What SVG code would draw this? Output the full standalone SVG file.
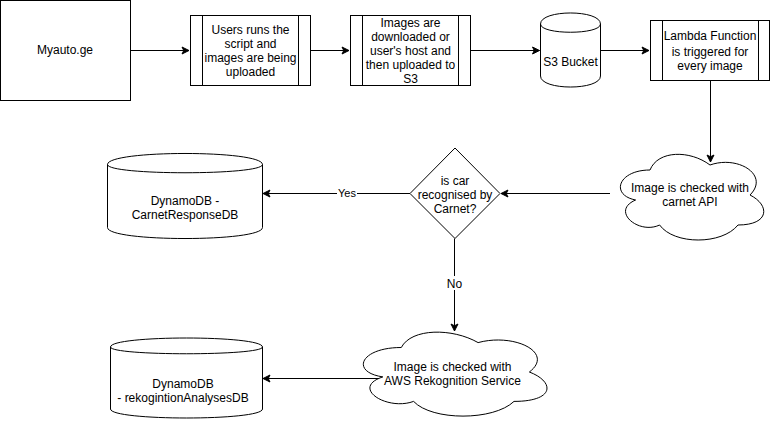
<svg xmlns="http://www.w3.org/2000/svg" width="771" height="424" viewBox="0 0 771 424">
<style>
.s{fill:#fff;stroke:#000;stroke-width:1}
.n{fill:none;stroke:#000;stroke-width:1}
.t{font-family:"Liberation Sans",Arial,Helvetica,sans-serif;font-size:12px;fill:#000;text-anchor:middle}
.e{stroke:#000;stroke-width:1;fill:none;marker-end:url(#arr)}
.lb{font-family:"Liberation Sans",Arial,Helvetica,sans-serif;fill:#000;text-anchor:middle}
</style>
<defs>
<marker id="arr" viewBox="-8 -5 9 10" refX="0" refY="0" markerWidth="9" markerHeight="10" orient="auto" markerUnits="userSpaceOnUse" overflow="visible">
<path d="M0,0 L-7,-3.5 L-5.25,0 L-7,3.5 Z" fill="#000" stroke="#000" stroke-width="1" stroke-linejoin="miter"/>
</marker>
</defs>
<rect width="771" height="424" fill="#fff"/>
<g id="connectors">
<path class="e" d="M130.5,50.5 L189,50.5"/>
<path class="e" d="M310.5,50.5 L349,50.5"/>
<path class="e" d="M470.5,50.5 L539.5,50.5"/>
<path class="e" d="M600.5,50.5 L649,50.5"/>
<path class="e" d="M710.5,80.5 L710.5,162"/>
<path class="e" d="M610,193.5 L501,193.5"/>
<path class="e" d="M410,193.5 L263,193.5"/>
<path class="e" d="M454.5,238.5 L454.5,331"/>
<path class="e" d="M382,378.5 L263,378.5"/>
<rect x="337" y="187" width="20" height="13" fill="#fff"/>
<text class="lb" x="347" y="197" font-size="11px">Yes</text>
<rect x="445" y="276" width="19" height="14" fill="#fff"/>
<text class="lb" x="454.5" y="287.5" font-size="12px">No</text>
</g>
<g id="myauto">
<rect class="s" x="0.5" y="0.5" width="130" height="100"/>
<text class="t" x="65" y="54">Myauto.ge</text>
</g>
<g id="users-run">
<rect class="s" x="190.5" y="15.5" width="120" height="70"/>
<path class="n" d="M202.5,15.5 V85.5 M298.5,15.5 V85.5"/>
<text class="t" x="250.5" y="33.5">Users runs the</text>
<text class="t" x="250.5" y="47.5">script and</text>
<text class="t" x="250.5" y="61.5">images are being</text>
<text class="t" x="250.5" y="75.5">uploaded</text>
</g>
<g id="images-downloaded">
<rect class="s" x="350.5" y="15.5" width="120" height="70"/>
<path class="n" d="M362.5,15.5 V85.5 M458.5,15.5 V85.5"/>
<text class="t" x="410.5" y="26.5">Images are</text>
<text class="t" x="410.5" y="40.5">downloaded or</text>
<text class="t" x="410.5" y="54.5">user's host and</text>
<text class="t" x="410.5" y="68.5">then uploaded to</text>
<text class="t" x="410.5" y="82.5">S3</text>
</g>
<g id="s3-bucket">
<path class="s" d="M540.5,24 C540.5,9.3 600.5,9.3 600.5,24 L600.5,76 C600.5,90.7 540.5,90.7 540.5,76 Z"/>
<path class="n" d="M540.5,24 C540.5,35 600.5,35 600.5,24"/>
<text class="t" x="570.5" y="66">S3 Bucket</text>
</g>
<g id="lambda">
<rect class="s" x="650.5" y="20.5" width="119" height="60"/>
<path class="n" d="M662.5,20.5 V80.5 M758.5,20.5 V80.5"/>
<text class="t" x="710" y="39.5">Lambda Function</text>
<text class="t" x="710" y="55.5">is triggered for</text>
<text class="t" x="710" y="69.5">every image</text>
</g>
<g id="carnet-check">
<path class="s" d="M650,170 C618,170 610,195 635.6,200 C610,211 638.8,235 659.6,225 C674,245 722,245 738,225 C770,225 770,205 750,195 C770,175 738,155 710,165 C690,150 658,150 650,170 Z"/>
<text class="t" x="690" y="191.5">Image is checked with</text>
<text class="t" x="690" y="206">carnet API</text>
</g>
<g id="decision">
<path class="s" d="M455,148 L500,193.5 L455,238.5 L410,193.5 Z"/>
<text class="t" x="455" y="184.5">is car</text>
<text class="t" x="455" y="198.5">recognised by</text>
<text class="t" x="455" y="212.5">Carnet?</text>
</g>
<g id="carnet-db">
<path class="s" d="M107.5,164.5 C107.5,149.8 262.5,149.8 262.5,164.5 L262.5,227.5 C262.5,242.2 107.5,242.2 107.5,227.5 Z"/>
<path class="n" d="M107.5,164.5 C107.5,175.5 262.5,175.5 262.5,164.5"/>
<text class="t" x="185" y="205">DynamoDB -</text>
<text class="t" x="185" y="219">CarnetResponseDB</text>
</g>
<g id="rekognition-check">
<path class="s" d="M401.3,347.5 C360.3,347.5 350,372 382.8,376.9 C350,387.7 386.9,411.2 413.6,401.4 C432,421 493.5,421 514,401.4 C555,401.4 555,381.8 529.4,372 C555,352.4 514,332.8 478.1,342.6 C452.5,327.9 411.5,327.9 401.3,347.5 Z"/>
<text class="t" x="452.5" y="370.5">Image is checked with</text>
<text class="t" x="452.5" y="385">AWS Rekognition Service</text>
</g>
<g id="rekognition-db">
<path class="s" d="M110.5,347 C110.5,335 262.5,335 262.5,347 L262.5,409 C262.5,421 110.5,421 110.5,409 Z"/>
<path class="n" d="M110.5,347 C110.5,356 262.5,356 262.5,347"/>
<text class="t" x="183" y="388">DynamoDB</text>
<text class="t" x="183" y="402">- rekogintionAnalysesDB</text>
</g>
</svg>
